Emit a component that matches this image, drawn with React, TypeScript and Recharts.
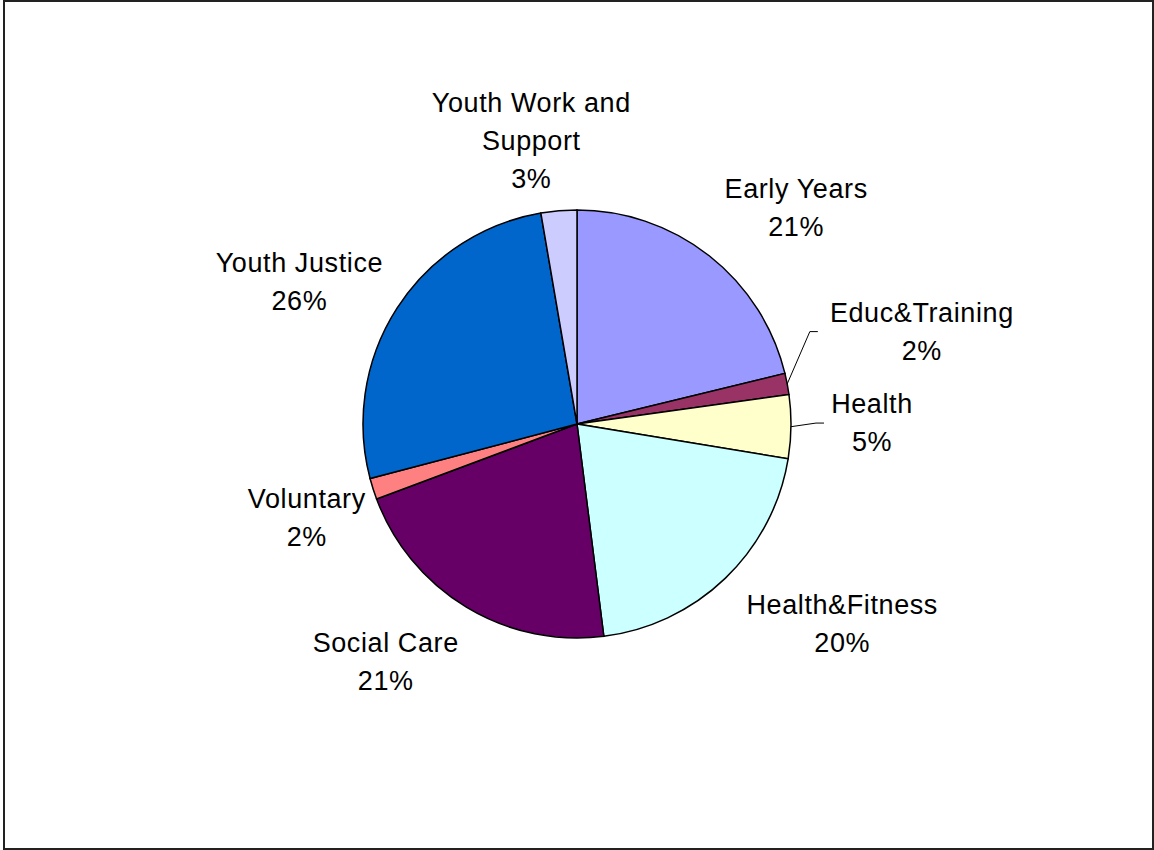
import { PieChart, Pie, Cell } from 'recharts';

const categories = [
  'Early Years',
  'Educ&Training',
  'Health',
  'Health&Fitness',
  'Social Care',
  'Voluntary',
  'Youth Justice',
  'Youth Work and Support',
];

// shares in percent
const shares = [21.2, 1.6, 4.8, 20.4, 21.3, 1.6, 26.4, 2.7];

const COLORS = ['#9999FF', '#993366', '#FFFFCC', '#CCFFFF', '#660066', '#FF8080', '#0066CC', '#CCCCFF'];

// label placement: distance from centre and clockwise nudge (deg) off the slice mid angle
const LABEL_RADIUS = [308, 357, 295, 332, 305, 286, 312, 287];
const LABEL_NUDGE = [7.2, -4.2, -0.9, -9.1, 7.7, -1.5, -5.6, -4.3];
const HAS_LEADER = [false, true, true, false, false, false, false, false];

const data = categories.map((name, i) => ({ name, value: shares[i] }));

const FONT = 27;
const LINE_H = 38;

function wrap(text: string, max: number) {
  const words = text.split(' ');
  const lines: string[] = [];
  let cur = '';
  words.forEach((w) => {
    const next = cur ? cur + ' ' + w : w;
    if (next.length > max && cur) {
      lines.push(cur);
      cur = w;
    } else {
      cur = next;
    }
  });
  if (cur) lines.push(cur);
  return lines;
}

const renderLabel = (props: any) => {
  const { cx, cy, midAngle, outerRadius, index, percent } = props;
  const theta = ((90 - midAngle + LABEL_NUDGE[index]) * Math.PI) / 180;
  const R = LABEL_RADIUS[index];
  const x = cx + R * Math.sin(theta);
  const y = cy - R * Math.cos(theta);
  const lines = [...wrap(categories[index], 15), `${Math.round(percent * 100 + 1e-6)}%`];
  const top = y - ((lines.length - 1) * LINE_H) / 2;

  let leader = null;
  if (HAS_LEADER[index]) {
    const m = (midAngle * Math.PI) / 180;
    const sx = cx + outerRadius * Math.cos(m);
    const sy = cy - outerRadius * Math.sin(m);
    const longest = Math.max(...lines.map((l) => l.length));
    const ex = x - longest * 8;
    leader = (
      <polyline
        points={`${sx},${sy} ${ex - 8},${y} ${ex},${y}`}
        fill="none"
        stroke="#000"
        strokeWidth={1}
      />
    );
  }

  return (
    <g key={`label-${index}`}>
      {leader}
      <text
        x={x}
        y={top}
        textAnchor="middle"
        dominantBaseline="central"
        fill="#000"
        style={{ fontFamily: '"Liberation Sans", Arial, sans-serif', fontSize: FONT, letterSpacing: 0.6 }}
      >
        {lines.map((l, i) => (
          <tspan key={i} x={x} dy={i === 0 ? 0 : LINE_H}>
            {l}
          </tspan>
        ))}
      </text>
    </g>
  );
};

export default function App() {
  return (
    <div style={{ position: 'absolute', left: 0, top: 0, width: 1154, height: 850, background: '#fff' }}>
      <div
        style={{
          position: 'absolute',
          left: 3,
          top: 0,
          width: 1151,
          height: 850,
          boxSizing: 'border-box',
          border: '2px solid #222',
        }}
      />
      <div style={{ position: 'absolute', left: 0, top: 0 }}>
        <PieChart width={1154} height={850} margin={{ top: 0, right: 0, bottom: 0, left: 0 }}>
          <Pie
            data={data}
            dataKey="value"
            nameKey="name"
            cx={577}
            cy={424}
            outerRadius={214}
            startAngle={90}
            endAngle={-270}
            stroke="#000"
            strokeWidth={1.5}
            label={renderLabel}
            labelLine={false}
            isAnimationActive={false}
          >
            {data.map((entry, index) => (
              <Cell key={`cell-${index}`} fill={COLORS[index]} />
            ))}
          </Pie>
        </PieChart>
      </div>
    </div>
  );
}
